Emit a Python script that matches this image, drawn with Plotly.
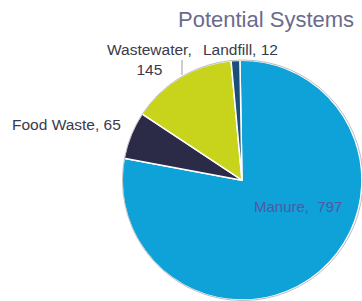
import plotly.graph_objects as go

labels = ["Manure", "Food Waste", "Wastewater", "Landfill"]
values = [797, 65, 145, 12]
colors = ["#0EA2D8", "#2B2A47", "#C8D41C", "#1B4E78"]
title_text = "Potential Systems"

fig = go.Figure(go.Pie(
    labels=labels, values=values, sort=False, direction="clockwise",
    rotation=-1, textinfo="none", hoverinfo="skip",
    marker=dict(colors=colors, line=dict(color="white", width=1.5)),
    domain=dict(x=[0.337, 1.0], y=[0.003, 0.8]),
    showlegend=False,
))

W, H = 362, 301
def px(x, y):
    return x / W, 1 - y / H

lab_font = dict(family="Liberation Sans, Arial", size=15.5, color="#3A3A4C")
ann = []
# Food Waste
x, y = px(66, 125)
ann.append(dict(x=x, y=y, text=f"{labels[1]}, {values[1]}", font=lab_font))
# Wastewater (two lines)
x, y = px(149, 60)
ann.append(dict(x=x, y=y, text=f"{labels[2]},<br>{values[2]}", font=lab_font))
# Landfill
x, y = px(240, 50)
ann.append(dict(x=x, y=y, text=f"{labels[3]}, {values[3]}", font=lab_font))
# Manure (inside)
x, y = px(298, 206)
ann.append(dict(x=x, y=y, text=f"{labels[0]},  {values[0]}",
                font=dict(family="Liberation Sans, Arial", size=15, color="#5257A6")))
# Title
x, y = px(266, 20)
ann.append(dict(x=x, y=y, text=title_text,
                font=dict(family="Liberation Sans, Arial", size=22, color="#6B6B8D")))
for a in ann:
    a.update(xref="paper", yref="paper", showarrow=False, xanchor="center", yanchor="middle")

x0, y0 = px(182, 60)
x1, y1 = px(182, 75)
cx0, cy0 = px(122.5, 60)
cx1, cy1 = px(363, 300.5)
fig.update_layout(
    width=W, height=H, margin=dict(l=0, r=0, t=0, b=0),
    paper_bgcolor="white", plot_bgcolor="white",
    annotations=ann,
    shapes=[
        dict(type="line", xref="paper", yref="paper", x0=x0, y0=y0, x1=x1, y1=y1,
             line=dict(color="#9A9AA8", width=1)),
        dict(type="circle", xref="paper", yref="paper", x0=cx0, y0=cy1, x1=cx1, y1=cy0,
             line=dict(color="#BDBDC4", width=1), layer="above"),
    ],
)
fig.write_html("out.html", config={"displayModeBar": False},
               post_script="document.body.style.margin='0';document.body.style.overflow='hidden';")
